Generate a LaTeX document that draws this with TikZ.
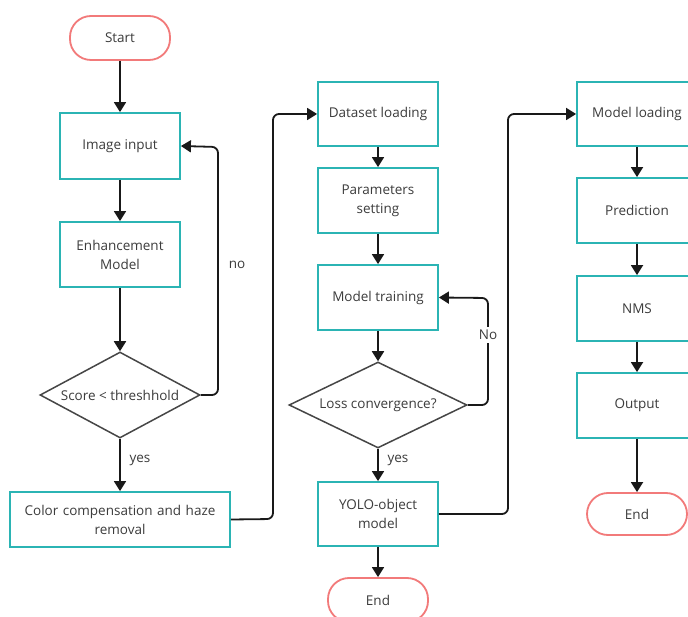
\documentclass[tikz,border=0pt]{standalone}
\usepackage{fontspec}
\setmainfont{Open Sans}
\usetikzlibrary{arrows.meta,shapes.geometric}
\definecolor{teal1}{RGB}{43,180,180}
\definecolor{pink1}{RGB}{242,122,122}
\definecolor{txt}{RGB}{60,60,60}
\definecolor{dia}{RGB}{70,70,70}
\tikzset{
  box/.style={draw=teal1, line width=1.8pt, fill=white, text=txt, align=center, inner sep=2pt, font=\fontsize{13.5}{19}\selectfont},
  term/.style={draw=pink1, line width=1.8pt, fill=white, text=txt, rounded corners=21pt, align=center, font=\fontsize{13.5}{19}\selectfont},
  dec/.style={draw=dia, line width=1.5pt, fill=white, diamond, inner sep=0pt, label={[text=txt, font=\fontsize{13.5}{19}\selectfont]center:#1}},
  arr/.style={draw=black!90, line width=1.8pt, -{Triangle[width=12pt,length=10pt]}, rounded corners=6pt},
  lbl/.style={text=txt, font=\fontsize{13.5}{16}\selectfont, inner sep=1pt}
}
\begin{document}
\begin{tikzpicture}[x=1pt,y=-1pt]
\useasboundingbox (0,0) rectangle (688,617);
\fill[white] (0,0) rectangle (688,617);
% column 1
\node[term, minimum width=100pt, minimum height=44pt] (start) at (120,38) {Start};
\node[box, minimum width=120pt, minimum height=66pt] (img) at (120,146) {Image input};
\node[box, minimum width=120pt, minimum height=65pt] (enh) at (120,254.5) {Enhancement\\Model};
\node[dec={Score < threshhold}, minimum width=160pt, minimum height=86pt] (d1) at (120,395) {};
\node[box, minimum width=220pt, minimum height=55pt, text width=210pt] (cc) at (120,519.5) {Color compensation and haze\\removal};
% column 2
\node[box, minimum width=120pt, minimum height=64pt] (ds) at (378,114) {Dataset loading};
\node[box, minimum width=120pt, minimum height=65pt] (ps) at (378,200.5) {Parameters\\setting};
\node[box, minimum width=120pt, minimum height=65pt] (mt) at (378,297.5) {Model training};
\node[dec={Loss convergence?}, minimum width=178pt, minimum height=86pt] (d2) at (378,405) {};
\node[box, minimum width=120pt, minimum height=64pt] (yolo) at (378,514) {YOLO-object\\model};
\node[term, minimum width=100pt, minimum height=44pt] (end1) at (378,600) {End};
% column 3
\node[box, minimum width=120pt, minimum height=64pt] (ml) at (637,114) {Model loading};
\node[box, minimum width=120pt, minimum height=65pt] (pr) at (637,210.5) {Prediction};
\node[box, minimum width=120pt, minimum height=65pt] (nms) at (637,308.5) {NMS};
\node[box, minimum width=120pt, minimum height=65pt] (out) at (637,405.5) {Output};
\node[term, minimum width=100pt, minimum height=42pt] (end2) at (637,514) {End};
% connectors column 1
\draw[arr] (start) -- (img);
\draw[arr] (img) -- (enh);
\draw[arr] (enh) -- (d1);
\draw[arr] (d1) -- (cc);
\node[lbl] (yes1) at (140,460) {yes};
\draw[arr] (d1.east) -- (218,395) -- (218,147) -- (img.east);
\node[lbl] (no1) at (237,265) {no};
\draw[arr] (cc.east) -- (273,519) -- (273,114) -- (ds.west);
% column 2
\draw[arr] (ds) -- (ps);
\draw[arr] (ps) -- (mt);
\draw[arr] (mt) -- (d2);
\draw[arr] (d2.east) -- (488,405) -- (488,298) -- (mt.east);
\node[lbl, fill=white, inner sep=3pt] (no2) at (488,335) {No};
\draw[arr] (d2) -- (yolo);
\node[lbl] (yes2) at (398,460) {yes};
\draw[arr] (yolo) -- (end1);
\draw[arr] (yolo.east) -- (508,514) -- (508,114) -- (ml.west);
% column 3
\draw[arr] (ml) -- (pr);
\draw[arr] (pr) -- (nms);
\draw[arr] (nms) -- (out);
\draw[arr] (out) -- (end2);
\end{tikzpicture}
\end{document}
